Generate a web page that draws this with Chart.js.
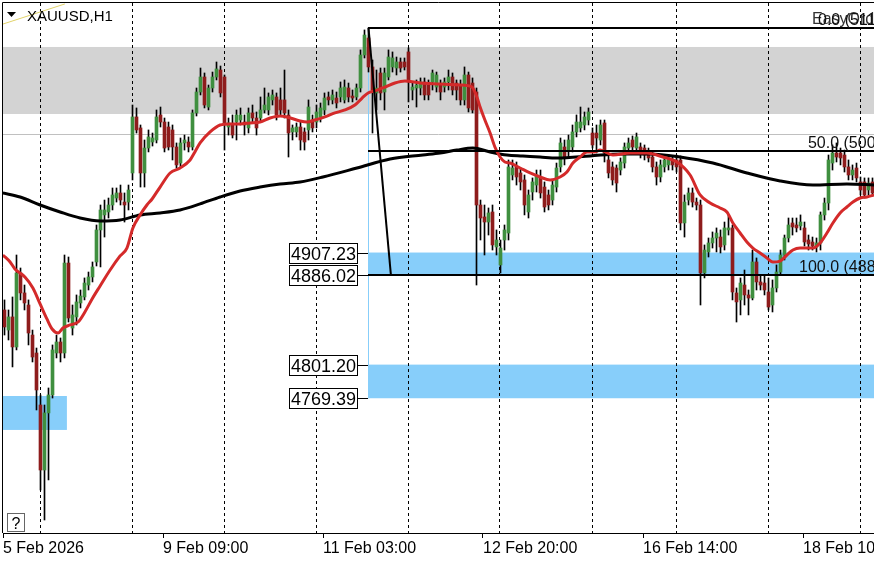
<!DOCTYPE html>
<html>
<head>
<meta charset="utf-8">
<script src="https://cdn.jsdelivr.net/npm/chart.js@4.4.1/dist/chart.umd.min.js"></script>
<style>
  html, body { margin: 0; padding: 0; background: #fff; }
  canvas { display: block; }
</style>
</head>
<body>
<canvas id="chart" width="874" height="562"></canvas>
<script>
// XAUUSD H1 candles (one value per hourly bar)
const open = [
  4852.9, 4833.9, 4846.3, 4817.9, 4887.9, 4869.0, 4857.6, 4829.2, 4812.2, 4763.0,
  4701.5, 4755.5, 4772.5, 4812.2, 4822.6, 4812.2, 4897.3, 4835.8, 4846.3, 4859.5,
  4865.2, 4876.5, 4884.1, 4898.3, 4928.6, 4942.8, 4945.6, 4952.2, 4958.8, 4963.6,
  4955.0, 4955.0, 4982.5, 5035.5, 5025.1, 4982.5, 5006.1, 5011.8, 5013.7, 5037.4,
  5030.7, 5026.0, 5023.2, 5007.1, 4991.9, 5010.9, 5011.8, 5007.1, 5039.3, 5059.1,
  5073.3, 5044.9, 5062.9, 5073.3, 5079.9, 5073.3, 5026.0, 5027.9, 5030.7, 5032.6,
  5030.7, 5025.1, 5039.3, 5034.5, 5034.5, 5042.1, 5042.1, 5051.6, 5054.4, 5051.6,
  5051.6, 5037.4, 5021.3, 5021.3, 5026.0, 5021.3, 5023.2, 5032.6, 5030.7, 5035.5,
  5042.1, 5054.4, 5051.6, 5053.4, 5054.4, 5051.6, 5062.9, 5055.3, 5054.4, 5062.9,
  5094.1, 5110.2, 5082.8, 5058.2, 5077.1, 5059.1, 5073.3, 5082.8, 5081.8, 5087.5,
  5087.5, 5097.0, 5061.0, 5062.9, 5062.9, 5068.6, 5065.7, 5068.6, 5063.8, 5065.7,
  5063.8, 5068.6, 5073.3, 5067.6, 5065.7, 5051.6, 5075.2, 5067.6, 5059.1, 4952.2,
  4940.9, 4936.1, 4945.6, 4912.5, 4895.5, 4919.1, 4925.7, 4980.6, 4988.2, 4982.5,
  4975.9, 4945.6, 4964.5, 4971.1, 4978.7, 4969.2, 4961.7, 4956.9, 4969.2, 4988.2,
  5007.1, 5004.2, 5007.1, 5021.3, 5025.1, 5027.9, 5032.6, 5020.3, 5020.3, 5013.7,
  5029.8, 4994.8, 4988.2, 4987.2, 4985.3, 4991.9, 5006.1, 5013.7, 5006.1, 5007.1,
  5006.1, 5001.4, 4997.6, 4988.2, 4978.7, 4988.2, 4990.1, 4994.8, 4994.8, 4994.8,
  4935.2, 4956.9, 4963.6, 4955.0, 4952.2, 4887.9, 4907.8, 4916.3, 4921.0, 4921.9,
  4914.4, 4928.6, 4930.5, 4869.0, 4862.4, 4876.5, 4867.1, 4864.2, 4898.3, 4879.4,
  4878.4, 4869.9, 4857.6, 4873.7, 4888.8, 4904.9, 4921.0, 4935.2, 4933.3, 4932.4,
  4930.5, 4919.1, 4917.2, 4912.5, 4916.3, 4942.8, 4954.1, 4991.9, 5001.4, 5001.4,
  4999.5, 4988.2, 4980.6, 4987.2, 4974.0, 4974.0, 4966.4, 4974.0
];
const close = [
  4836.8, 4846.3, 4817.9, 4887.9, 4869.0, 4859.5, 4831.1, 4808.4, 4777.2, 4701.5,
  4755.5, 4772.5, 4815.1, 4822.6, 4812.2, 4897.3, 4845.3, 4848.2, 4860.5, 4866.1,
  4878.4, 4884.1, 4893.6, 4928.6, 4947.5, 4947.5, 4952.2, 4961.7, 4963.6, 4956.9,
  4952.2, 4966.4, 5035.5, 5023.2, 4982.5, 5006.1, 5016.6, 5015.6, 5035.5, 5030.7,
  5006.1, 5007.1, 5007.1, 4990.1, 5010.9, 5013.7, 5007.1, 5039.3, 5059.1, 5073.3,
  5046.8, 5062.9, 5073.3, 5080.9, 5058.2, 5029.8, 5029.8, 5018.4, 5037.4, 5037.4,
  5027.9, 5039.3, 5034.5, 5025.1, 5042.1, 5046.8, 5054.4, 5056.3, 5037.4, 5042.1,
  5039.3, 5020.3, 5025.1, 5026.0, 5013.7, 5011.8, 5044.9, 5025.1, 5040.2, 5044.0,
  5053.4, 5051.6, 5056.3, 5048.7, 5062.9, 5063.8, 5054.4, 5053.4, 5062.9, 5094.1,
  5113.0, 5082.8, 5061.0, 5062.9, 5058.2, 5077.1, 5092.2, 5091.3, 5087.5, 5081.8,
  5082.8, 5068.6, 5063.8, 5065.7, 5068.6, 5056.3, 5056.3, 5077.1, 5075.2, 5059.1,
  5068.6, 5073.3, 5061.0, 5061.0, 5051.6, 5075.2, 5044.0, 5042.1, 4952.2, 4939.9,
  4936.1, 4944.7, 4914.4, 4919.1, 4911.5, 4928.6, 4988.2, 4987.2, 4978.7, 4974.0,
  4952.2, 4961.7, 4974.0, 4980.6, 4963.6, 4950.3, 4952.2, 4971.1, 4987.2, 5010.9,
  4997.6, 5013.7, 5021.3, 5030.7, 5030.7, 5035.5, 5040.2, 5009.0, 5015.6, 5027.9,
  5001.4, 4982.5, 4975.9, 4973.0, 4992.9, 5007.1, 5010.9, 5007.1, 5016.6, 5002.4,
  4999.5, 4996.7, 4988.2, 4978.7, 4990.1, 4994.8, 4994.8, 4990.1, 4988.2, 4935.2,
  4955.0, 4963.6, 4955.0, 4952.2, 4887.9, 4909.6, 4916.3, 4921.0, 4925.7, 4912.5,
  4930.5, 4930.5, 4869.9, 4860.5, 4878.4, 4867.1, 4864.2, 4898.3, 4879.4, 4876.5,
  4871.8, 4855.7, 4873.7, 4888.8, 4904.9, 4921.0, 4933.3, 4931.4, 4930.5, 4936.1,
  4917.2, 4915.3, 4913.4, 4916.3, 4942.8, 4954.1, 4994.8, 5001.4, 4997.6, 4996.7,
  4988.2, 4980.6, 4985.3, 4977.8, 4966.4, 4961.7, 4973.0, 4963.6
];
const high = [
  4862.4, 4852.9, 4865.2, 4904.9, 4892.6, 4876.5, 4862.4, 4833.9, 4816.9, 4772.5,
  4763.0, 4779.1, 4819.8, 4829.2, 4826.4, 4904.9, 4903.0, 4857.6, 4867.1, 4871.8,
  4883.2, 4888.8, 4898.3, 4933.3, 4952.2, 4956.9, 4958.8, 4968.3, 4968.3, 4971.1,
  4963.6, 4971.1, 5046.8, 5044.0, 5027.9, 5013.7, 5023.2, 5020.3, 5042.1, 5044.9,
  5034.5, 5030.7, 5027.9, 5010.9, 5015.6, 5018.4, 5016.6, 5042.1, 5062.9, 5081.8,
  5077.1, 5065.7, 5078.0, 5087.5, 5083.7, 5075.2, 5034.5, 5037.4, 5042.1, 5044.0,
  5037.4, 5044.0, 5046.8, 5040.2, 5054.4, 5062.9, 5058.2, 5061.0, 5058.2, 5062.9,
  5079.9, 5042.1, 5027.9, 5029.8, 5030.7, 5025.1, 5051.6, 5037.4, 5046.8, 5048.7,
  5058.2, 5059.1, 5061.0, 5059.1, 5068.6, 5070.5, 5067.6, 5061.0, 5066.7, 5098.9,
  5117.8, 5119.8, 5089.4, 5079.9, 5081.8, 5081.8, 5098.9, 5097.0, 5092.2, 5091.3,
  5091.3, 5100.8, 5067.6, 5070.5, 5072.4, 5072.4, 5070.5, 5079.9, 5078.0, 5070.5,
  5072.4, 5079.9, 5077.1, 5070.5, 5070.5, 5082.8, 5078.0, 5072.4, 5062.9, 4956.9,
  4952.2, 4949.4, 4952.2, 4928.6, 4919.1, 4933.3, 4994.8, 4994.8, 4992.9, 4987.2,
  4980.6, 4966.4, 4977.8, 4985.3, 4985.3, 4974.0, 4966.4, 4975.9, 4991.9, 5015.6,
  5013.7, 5018.4, 5027.9, 5037.4, 5044.9, 5040.2, 5044.0, 5025.1, 5027.9, 5032.6,
  5032.6, 4999.5, 4992.9, 4990.1, 4996.7, 5010.9, 5015.6, 5017.5, 5020.3, 5010.9,
  5009.0, 5006.1, 5002.4, 4992.9, 4994.8, 4997.6, 4999.5, 4998.6, 4999.5, 4998.6,
  4961.7, 4968.3, 4968.3, 4958.8, 4956.9, 4914.4, 4921.0, 4926.7, 4930.5, 4928.6,
  4936.1, 4942.8, 4933.3, 4873.7, 4883.2, 4890.7, 4871.8, 4909.6, 4902.1, 4886.0,
  4886.0, 4883.2, 4881.3, 4895.5, 4909.6, 4923.8, 4939.9, 4939.9, 4939.9, 4942.8,
  4936.1, 4923.8, 4921.9, 4921.0, 4945.6, 4958.8, 4999.5, 5009.0, 5010.9, 5006.1,
  5004.2, 4994.8, 4990.1, 4991.9, 4978.7, 4977.8, 4977.8, 4977.8
];
const low = [
  4829.2, 4824.5, 4799.0, 4815.1, 4862.4, 4852.9, 4819.8, 4803.7, 4758.3, 4682.6,
  4654.2, 4692.1, 4769.6, 4807.5, 4803.7, 4807.5, 4841.5, 4829.2, 4838.7, 4854.8,
  4862.4, 4871.8, 4879.4, 4894.5, 4893.6, 4921.9, 4939.9, 4947.5, 4955.0, 4952.2,
  4936.1, 4947.5, 4975.9, 5020.3, 4969.2, 4969.2, 5002.4, 5008.0, 5010.9, 5026.0,
  5002.4, 5004.2, 4994.8, 4987.2, 4988.2, 5004.2, 5002.4, 5004.2, 5036.4, 5056.3,
  5044.0, 5042.1, 5059.1, 5070.5, 5054.4, 5004.2, 5018.4, 5015.6, 5013.7, 5027.9,
  5018.4, 5020.3, 5030.7, 5018.4, 5030.7, 5039.3, 5037.4, 5046.8, 5032.6, 5037.4,
  5034.5, 4997.6, 5013.7, 5016.6, 5004.2, 5004.2, 5013.7, 5021.3, 5025.1, 5030.7,
  5037.4, 5046.8, 5047.8, 5044.0, 5049.7, 5048.7, 5049.7, 5049.7, 5051.6, 5059.1,
  5091.3, 5078.0, 5020.3, 5042.1, 5051.6, 5042.1, 5070.5, 5078.0, 5075.2, 5078.0,
  5079.9, 5049.7, 5051.6, 5044.9, 5056.3, 5051.6, 5051.6, 5061.0, 5059.1, 5051.6,
  5059.1, 5061.0, 5056.3, 5051.6, 5046.8, 5046.8, 5040.2, 5039.3, 4876.5, 4919.1,
  4904.9, 4923.8, 4909.6, 4904.9, 4887.9, 4909.6, 4919.1, 4975.9, 4971.1, 4966.4,
  4942.8, 4939.9, 4956.9, 4964.5, 4958.8, 4945.6, 4947.5, 4952.2, 4964.5, 4983.4,
  4990.1, 4996.7, 5002.4, 5016.6, 5021.3, 5023.2, 5027.9, 5006.1, 5001.4, 5009.0,
  4992.9, 4977.8, 4971.1, 4964.5, 4980.6, 4987.2, 5002.4, 5002.4, 5002.4, 4996.7,
  4994.8, 4992.9, 4983.4, 4971.1, 4974.0, 4983.4, 4985.3, 4985.3, 4983.4, 4928.6,
  4921.9, 4952.2, 4950.3, 4947.5, 4857.6, 4883.2, 4903.0, 4911.5, 4907.8, 4906.8,
  4909.6, 4923.8, 4862.4, 4841.5, 4848.2, 4857.6, 4848.2, 4862.4, 4871.8, 4871.8,
  4867.1, 4852.9, 4851.0, 4869.9, 4886.0, 4900.2, 4917.2, 4923.8, 4926.7, 4928.6,
  4913.4, 4909.6, 4909.6, 4907.8, 4909.6, 4938.0, 4947.5, 4985.3, 4992.9, 4990.1,
  4983.4, 4975.9, 4975.9, 4974.0, 4961.7, 4958.8, 4961.7, 4960.7
];

// moving averages, sampled along the drawn curves as [bar, price]
const redMa = [
  [-0.4, 4904.9], [1.4, 4898.3], [2.6, 4891.7], [5.1, 4884.1], [7.1, 4873.7], [8.9, 4858.6],
  [10.6, 4844.4], [11.9, 4834.9], [13.4, 4831.1], [14.6, 4835.8], [16.4, 4838.7], [18.4, 4841.5],
  [20.1, 4851.0], [21.9, 4863.3], [23.9, 4875.6], [26.4, 4890.7], [28.9, 4904.0], [30.6, 4911.5],
  [32.1, 4930.5], [33.9, 4942.8], [35.6, 4952.2], [36.9, 4957.9], [38.9, 4969.2], [41.4, 4982.5],
  [43.9, 4987.2], [46.4, 4994.8], [47.6, 5002.4], [48.9, 5010.9], [51.4, 5021.3], [53.9, 5027.9],
  [56.4, 5028.9], [58.9, 5028.9], [61.4, 5029.8], [63.9, 5030.7], [66.4, 5034.5], [68.9, 5036.4],
  [70.6, 5035.5], [73.9, 5031.7], [75.6, 5030.7], [77.6, 5032.6], [80.1, 5035.5], [82.6, 5039.3],
  [85.1, 5042.1], [87.6, 5046.8], [89.4, 5053.4], [90.9, 5058.2], [92.6, 5060.1], [95.1, 5063.8],
  [97.6, 5067.6], [100.1, 5069.5], [103.9, 5067.6], [108.9, 5066.7], [113.9, 5065.7], [116.9, 5063.8],
  [118.1, 5054.4], [118.9, 5044.9], [120.1, 5032.6], [121.4, 5020.3], [122.6, 5007.1], [123.9, 4997.6],
  [125.1, 4992.9], [126.4, 4991.9], [128.9, 4987.2], [131.4, 4982.5], [133.9, 4978.7], [136.4, 4975.9],
  [138.9, 4978.7], [140.6, 4983.4], [142.1, 4991.9], [143.9, 4997.6], [145.6, 5002.4], [147.6, 5002.4],
  [148.9, 5004.2], [152.1, 4999.5], [156.4, 5001.4], [160.6, 5001.4], [164.6, 4997.6], [168.1, 4992.9],
  [171.4, 4980.6], [173.9, 4961.7], [176.4, 4954.1], [178.9, 4949.4], [180.6, 4945.6], [182.1, 4935.2],
  [183.9, 4925.7], [185.6, 4917.2], [187.1, 4911.5], [188.9, 4906.8], [190.6, 4902.1], [192.1, 4898.3],
  [193.9, 4899.2], [195.6, 4904.9], [197.1, 4909.6], [198.9, 4911.5], [202.1, 4911.5], [203.9, 4916.3],
  [205.6, 4925.7], [207.1, 4935.2], [208.9, 4944.7], [210.6, 4950.3], [212.1, 4955.0], [213.9, 4958.8],
  [215.6, 4959.8], [217.4, 4961.7]
];
const blackMa = [
  [-0.4, 4963.6], [3.9, 4959.8], [8.9, 4952.2], [13.9, 4945.6], [18.9, 4939.9], [23.9, 4937.1],
  [28.9, 4938.0], [33.9, 4942.8], [38.9, 4944.7], [43.9, 4947.5], [48.9, 4953.2], [53.9, 4959.8],
  [58.9, 4965.5], [63.9, 4969.2], [68.9, 4972.1], [73.9, 4974.0], [79.6, 4978.7], [88.1, 4987.2],
  [96.4, 4995.7], [104.6, 4999.5], [108.9, 5001.4], [113.1, 5004.2], [117.1, 5006.1], [121.4, 5002.4],
  [125.6, 4999.5], [129.6, 4998.6], [133.9, 4997.6], [138.1, 4996.7], [146.4, 4998.6], [153.9, 5000.5],
  [161.4, 5000.5], [168.9, 4997.6], [177.1, 4991.9], [185.6, 4982.5], [193.9, 4974.9], [202.1, 4971.1],
  [210.6, 4972.1], [217.4, 4971.1]
];

// axis labels and day separators (bar numbers)
const tickBars = [0, 40, 80, 120, 160, 200];
const tickLabels = ['5 Feb 2026', '9 Feb 09:00', '11 Feb 03:00', '12 Feb 20:00', '16 Feb 14:00', '18 Feb 10:00'];
const daySeparators = [9, 32, 55, 78, 101, 124, 147, 168, 191, 214];

// drawn objects (prices)
const zoneGray = [5101.7, 5038.3];
const grayLevel = 5019.4;
const zoneUpper = [4907.23, 4886.02];
const zoneLower = [4801.20, 4769.39];
const zoneLeft = [4771.5, 4739.4];
const zoneLeftEnd = 15.6;
const fibStart = 91;
const fibEnd = 96.6;
const fibLevels = [5119.80, 5002.91, 4886.02];
const fibNames = ['0.0', '50.0', '100.0'];
const priceTags = [4907.23, 4886.02, 4801.20, 4769.39];
const yellowLine = [[-1.1, 5122.5], [15.1, 5142.4]];

const UP = '#3f8f3f';
const DOWN = '#8e1c1c';

const bars = open.map((_, i) => i);

const overlay = {
  id: 'overlay',
  beforeDatasetsDraw(chart) {
    const { ctx, chartArea: a, scales: { x, y } } = chart;
    const X = v => x.getPixelForValue(v), Y = v => y.getPixelForValue(v);
    ctx.save();
    ctx.beginPath();
    ctx.rect(a.left, a.top, a.right - a.left, a.bottom - a.top);
    ctx.clip();

    ctx.fillStyle = '#d3d3d3';
    ctx.fillRect(a.left, Y(zoneGray[0]), a.right - a.left, Y(zoneGray[1]) - Y(zoneGray[0]));

    ctx.strokeStyle = '#c0c0c0';
    ctx.lineWidth = 1;
    const gl = Math.round(Y(grayLevel)) + 0.5;
    ctx.beginPath(); ctx.moveTo(a.left, gl); ctx.lineTo(a.right, gl); ctx.stroke();

    const x0 = Math.round(X(fibStart));
    ctx.fillStyle = '#87cefa';
    [zoneUpper, zoneLower].forEach(z => {
      ctx.fillRect(x0 - 1, Y(z[0]), a.right - x0 + 1, Y(z[1]) - Y(z[0]));
    });
    ctx.fillRect(a.left, Y(zoneLeft[0]), X(zoneLeftEnd) - a.left, Y(zoneLeft[1]) - Y(zoneLeft[0]));

    ctx.strokeStyle = '#000';
    ctx.setLineDash([3, 3]);
    daySeparators.forEach(i => {
      const sx = Math.round(X(i)) - 0.5;
      ctx.beginPath(); ctx.moveTo(sx, a.top); ctx.lineTo(sx, a.bottom); ctx.stroke();
    });
    ctx.setLineDash([]);

    ctx.strokeStyle = '#87cefa';
    ctx.beginPath();
    ctx.moveTo(x0 - 0.5, Y(fibLevels[0]));
    ctx.lineTo(x0 - 0.5, Y(zoneLower[1]));
    ctx.stroke();
    ctx.restore();
  },
  afterDatasetsDraw(chart) {
    const { ctx, chartArea: a, scales: { x, y } } = chart;
    const X = v => x.getPixelForValue(v), Y = v => y.getPixelForValue(v);
    const x0 = Math.round(X(fibStart));
    ctx.save();
    ctx.beginPath();
    ctx.rect(a.left, a.top, a.right - a.left, a.bottom - a.top);
    ctx.clip();

    // fibonacci levels and the swing line
    ctx.strokeStyle = '#000';
    ctx.lineWidth = 2;
    fibLevels.forEach(p => {
      const ly = Math.round(Y(p));
      ctx.beginPath(); ctx.moveTo(x0 - 1, ly); ctx.lineTo(a.right, ly); ctx.stroke();
    });
    ctx.beginPath();
    ctx.moveTo(X(fibStart), Y(fibLevels[0]));
    ctx.lineTo(X(fibEnd), Y(fibLevels[2]));
    ctx.stroke();

    ctx.font = '16px "Liberation Sans", Arial, sans-serif';
    ctx.textBaseline = 'alphabetic';
    ctx.fillStyle = '#333';
    ctx.textAlign = 'left';
    ctx.fillText('EasyOrder', 812, 24);
    ctx.fillStyle = '#111';
    ctx.textAlign = 'right';
    fibLevels.forEach((p, k) => {
      ctx.fillText(fibNames[k] + ' (' + p.toFixed(2) + ')', a.right + 38, Math.round(Y(p)) - 3);
    });

    // price tags
    ctx.font = '18px "Liberation Sans", Arial, sans-serif';
    ctx.lineWidth = 1;
    priceTags.forEach(p => {
      const ty = Math.round(Y(p));
      const w = Math.round(ctx.measureText(p.toFixed(2)).width) + 4;
      const right = x0 - 11;
      const left = right - w;
      ctx.fillStyle = '#fff';
      ctx.fillRect(left, ty - 10, w, 21);
      ctx.strokeStyle = '#000';
      ctx.strokeRect(left + 0.5, ty - 9.5, w - 1, 20);
      ctx.beginPath(); ctx.moveTo(right, ty + 0.5); ctx.lineTo(x0 - 1, ty + 0.5); ctx.stroke();
      ctx.fillStyle = '#000';
      ctx.textAlign = 'center';
      ctx.fillText(p.toFixed(2), left + w / 2, ty + 7);
    });

    // yellow trend line at top-left
    ctx.strokeStyle = '#e2d36a';
    ctx.lineWidth = 1;
    ctx.beginPath();
    ctx.moveTo(X(yellowLine[0][0]), Y(yellowLine[0][1]));
    ctx.lineTo(X(yellowLine[1][0]), Y(yellowLine[1][1]));
    ctx.stroke();

    // symbol title
    ctx.fillStyle = '#000';
    ctx.beginPath();
    ctx.moveTo(7, 12); ctx.lineTo(16, 12); ctx.lineTo(11.5, 17); ctx.closePath(); ctx.fill();
    ctx.font = '15px "Liberation Sans", Arial, sans-serif';
    ctx.textAlign = 'left';
    ctx.fillText('XAUUSD,H1', 27, 21);

    // help box
    ctx.fillStyle = '#fff';
    ctx.fillRect(7, 513, 17, 18);
    ctx.strokeStyle = '#666';
    ctx.strokeRect(7.5, 513.5, 17, 18);
    ctx.fillStyle = '#000';
    ctx.font = '16px "Liberation Sans", Arial, sans-serif';
    ctx.textAlign = 'center';
    ctx.fillText('?', 16, 529);
    ctx.restore();

    // frame
    ctx.save();
    ctx.strokeStyle = '#000';
    ctx.lineWidth = 1;
    ctx.beginPath();
    ctx.moveTo(a.left - 0.5, a.bottom);
    ctx.lineTo(a.left - 0.5, a.top - 0.5);
    ctx.lineTo(a.right, a.top - 0.5);
    ctx.stroke();
    ctx.restore();
  }
};

Chart.defaults.font.family = '"Liberation Sans", Arial, sans-serif';
Chart.defaults.color = '#000';

const ctx = document.getElementById('chart').getContext('2d');

const chart = new Chart(ctx, {
  type: 'bar',
  data: {
    datasets: [
      {
        type: 'line',
        label: 'MA fast',
        data: redMa.map(([b, p]) => ({ x: b, y: p })),
        borderColor: '#d42a2a',
        borderWidth: 3,
        pointRadius: 0,
        cubicInterpolationMode: 'monotone',
        order: 0
      },
      {
        type: 'line',
        label: 'MA slow',
        data: blackMa.map(([b, p]) => ({ x: b, y: p })),
        borderColor: '#000',
        borderWidth: 3,
        pointRadius: 0,
        cubicInterpolationMode: 'monotone',
        order: 1
      },
      {
        label: 'body',
        data: bars.map(i => ({ x: i, y: [open[i], close[i]] })),
        backgroundColor: bars.map(i => close[i] >= open[i] ? UP : DOWN),
        borderWidth: 0,
        barThickness: 3,
        minBarLength: 1,
        grouped: false,
        order: 2
      },
      {
        label: 'wick',
        data: bars.map(i => ({ x: i, y: [low[i], high[i]] })),
        backgroundColor: '#000',
        borderWidth: 0,
        barThickness: 1,
        grouped: false,
        order: 3
      }
    ]
  },
  options: {
    responsive: false,
    devicePixelRatio: 1,
    animation: false,
    layout: { padding: { left: 3, top: 3, right: 0, bottom: 0 } },
    plugins: {
      legend: { display: false },
      tooltip: { enabled: false }
    },
    scales: {
      x: {
        type: 'linear',
        offset: false,
        min: -0.375,
        max: 217.375,
        afterBuildTicks: s => { s.ticks = tickBars.map(b => ({ value: b - 0.375 })); },
        afterFit: s => { s.height = 29; s.paddingLeft = 0; s.paddingRight = 0; },
        ticks: {
          autoSkip: false,
          maxRotation: 0,
          align: 'start',
          padding: 1,
          color: '#000',
          font: { size: 16 },
          callback: (v, i) => tickLabels[i]
        },
        grid: { offset: false, drawOnChartArea: false, tickLength: 5, color: '#000' },
        border: { display: true, color: '#000', width: 1 }
      },
      y: {
        display: false,
        min: 4641.9,
        max: 5143.3
      }
    }
  },
  plugins: [overlay]
});
</script>
</body>
</html>
